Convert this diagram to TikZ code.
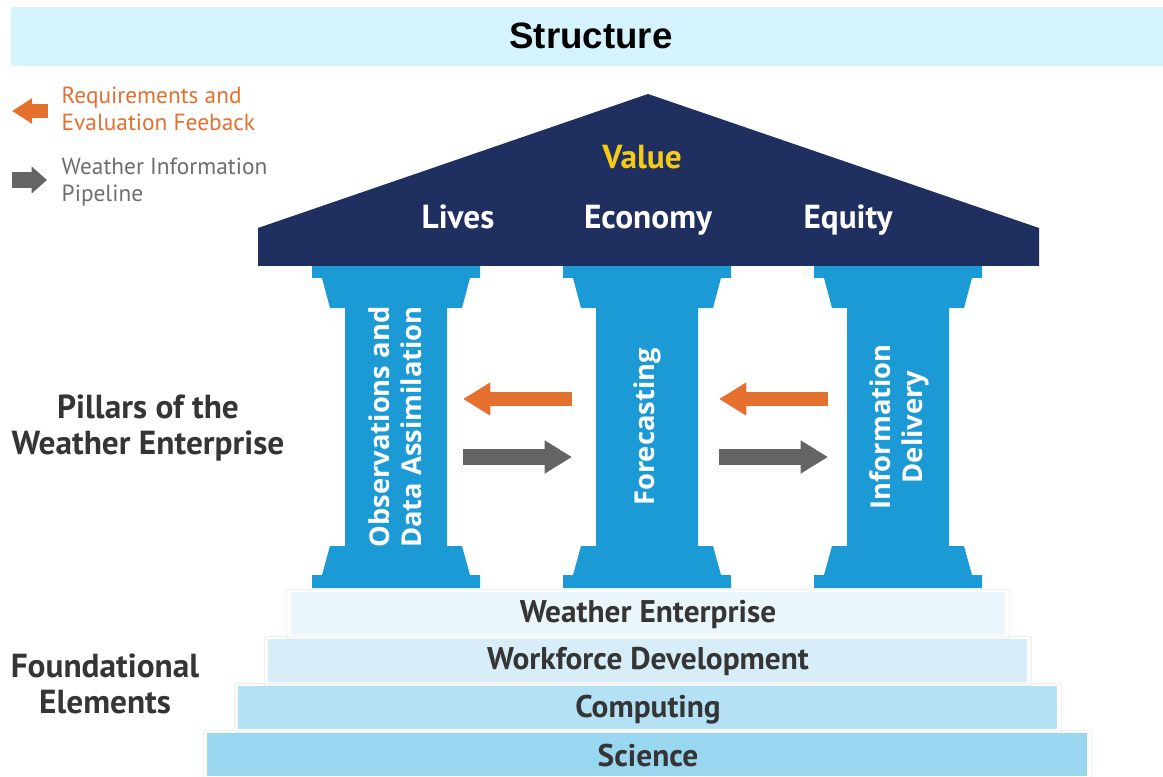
\documentclass[tikz,border=0pt]{standalone}
\usepackage{fontspec}
\setmainfont{PT Sans}
\newfontfamily\arialf{Liberation Sans}
\newfontfamily\opensf{Open Sans}
\usetikzlibrary{arrows.meta}
\definecolor{band}{HTML}{D5F3FD}
\definecolor{navy}{HTML}{1F2F5F}
\definecolor{pillarblue}{HTML}{1B9AD6}
\definecolor{orangeA}{HTML}{E3702F}
\definecolor{grayA}{HTML}{636466}
\definecolor{legendgray}{HTML}{6D6E70}
\definecolor{valueyellow}{HTML}{F7CB15}
\definecolor{darktext}{HTML}{353535}
\definecolor{layerA}{HTML}{EAF6FB}
\definecolor{layerB}{HTML}{D7EDF8}
\definecolor{layerC}{HTML}{B4E2F4}
\definecolor{layerD}{HTML}{99D7F1}
\begin{document}
\begin{tikzpicture}[x=0.75pt,y=-0.75pt,
  pillar/.pic={\fill[pillarblue] (-84,0) -- (84,0) -- (84,12) -- (74,12) -- (66,42) -- (51,42) -- (51,280) -- (66,280) -- (74,309) -- (84,309) -- (84,322) -- (-84,322) -- (-84,309) -- (-74,309) -- (-66,280) -- (-51,280) -- (-51,42) -- (-66,42) -- (-74,12) -- (-84,12) -- cycle;},
  pillartext/.style={text=white, font=\opensf\bfseries\fontsize{20.5}{24}\selectfont, rotate=90, align=center},
  rooftext/.style={text=white, font=\bfseries\fontsize{25}{28}\selectfont, anchor=base},
  layertext/.style={text=darktext, font=\bfseries\fontsize{23.5}{26}\selectfont},
  sidelabel/.style={text=darktext, font=\bfseries\fontsize{25}{26.5}\selectfont, align=center},
  legendtext/.style={font=\fontsize{17.5}{20.5}\selectfont, align=left, anchor=west},
  fbarrow/.style={draw=orangeA, line width=11pt, -{Triangle[length=20.5pt,width=23.5pt]}},
  piparrow/.style={draw=grayA, line width=11.5pt, -{Triangle[length=20.5pt,width=23.5pt]}},
  legarrowA/.style={draw=orangeA, line width=10pt, -{Triangle[length=15pt,width=18pt]}},
  legarrowB/.style={draw=grayA, line width=12pt, -{Triangle[length=11.5pt,width=19.5pt]}},
  frame/.style={draw=black!6, line width=0.6pt}
]
\useasboundingbox (0,0) rectangle (1163,777);
\fill[white] (0,0) rectangle (1163,777);

% Structure band
\fill[band] (11,7) rectangle (1163,66);
\node (structure) at (591,36) {\arialf\bfseries\fontsize{27.5}{30}\selectfont Structure};

% Legend
\coordinate (lo1) at (48,111);
\coordinate (lo2) at (12,111);
\draw[legarrowA] (lo1) -- (lo2);
\node[legendtext, text=orangeA] (legA) at (57,109) {Requirements and\\Evaluation Feeback};
\coordinate (lg1) at (12,180);
\coordinate (lg2) at (47,180);
\draw[legarrowB] (lg1) -- (lg2);
\node[legendtext, text=legendgray] (legB) at (57,182) {Weather Information\\Pipeline};

% Pillars
\pic at (396,266) {pillar};
\pic at (647,266) {pillar};
\pic at (898,266) {pillar};
\node[pillartext] (obs) at (395,427) {Observations and\\Data Assimilation};
\node[pillartext] (fc) at (647,427) {Forecasting};
\node[pillartext] (info) at (899,427) {Information\\Delivery};

% Roof
\fill[navy] (258,266) -- (258,228) -- (648,94) -- (1039,228) -- (1039,266) -- cycle;
\node[rooftext, text=valueyellow] (value) at (642,169) {Value};
\node[rooftext] (lives) at (458,229) {Lives};
\node[rooftext] (economy) at (648,229) {Economy};
\node[rooftext] (equity) at (848,229) {Equity};

% Arrows between pillars
\coordinate (oA1) at (572,399); \coordinate (oA2) at (463,399);
\coordinate (oB1) at (828,399); \coordinate (oB2) at (719,399);
\coordinate (gA1) at (463,457); \coordinate (gA2) at (572,457);
\coordinate (gB1) at (719,457); \coordinate (gB2) at (828,457);
\draw[fbarrow] (oA1) -- (oA2);
\draw[fbarrow] (oB1) -- (oB2);
\draw[piparrow] (gA1) -- (gA2);
\draw[piparrow] (gB1) -- (gB2);

% Foundation layers
\draw[frame] (286,589) rectangle (1009,638);
\draw[frame] (264,636) rectangle (1031,685);
\draw[frame] (234,683) rectangle (1061,732);
\draw[frame] (203,730) rectangle (1091,777);
\fill[layerA] (291,592) rectangle (1005,635);
\fill[layerB] (268,639) rectangle (1027,682);
\fill[layerC] (238,686) rectangle (1057,729);
\fill[layerD] (207,733) rectangle (1087,776);
\node[layertext] (we) at (648,614) {Weather Enterprise};
\node[layertext] (wd) at (648,662) {Workforce Development};
\node[layertext] (comp) at (648,710) {Computing};
\node[layertext] (sci) at (648,756) {Science};

% Side labels
\node[sidelabel] (pillars) at (148,428) {Pillars of the\\Weather Enterprise};
\node[sidelabel] (found) at (105,684) {Foundational\\Elements};
\end{tikzpicture}
\end{document}
